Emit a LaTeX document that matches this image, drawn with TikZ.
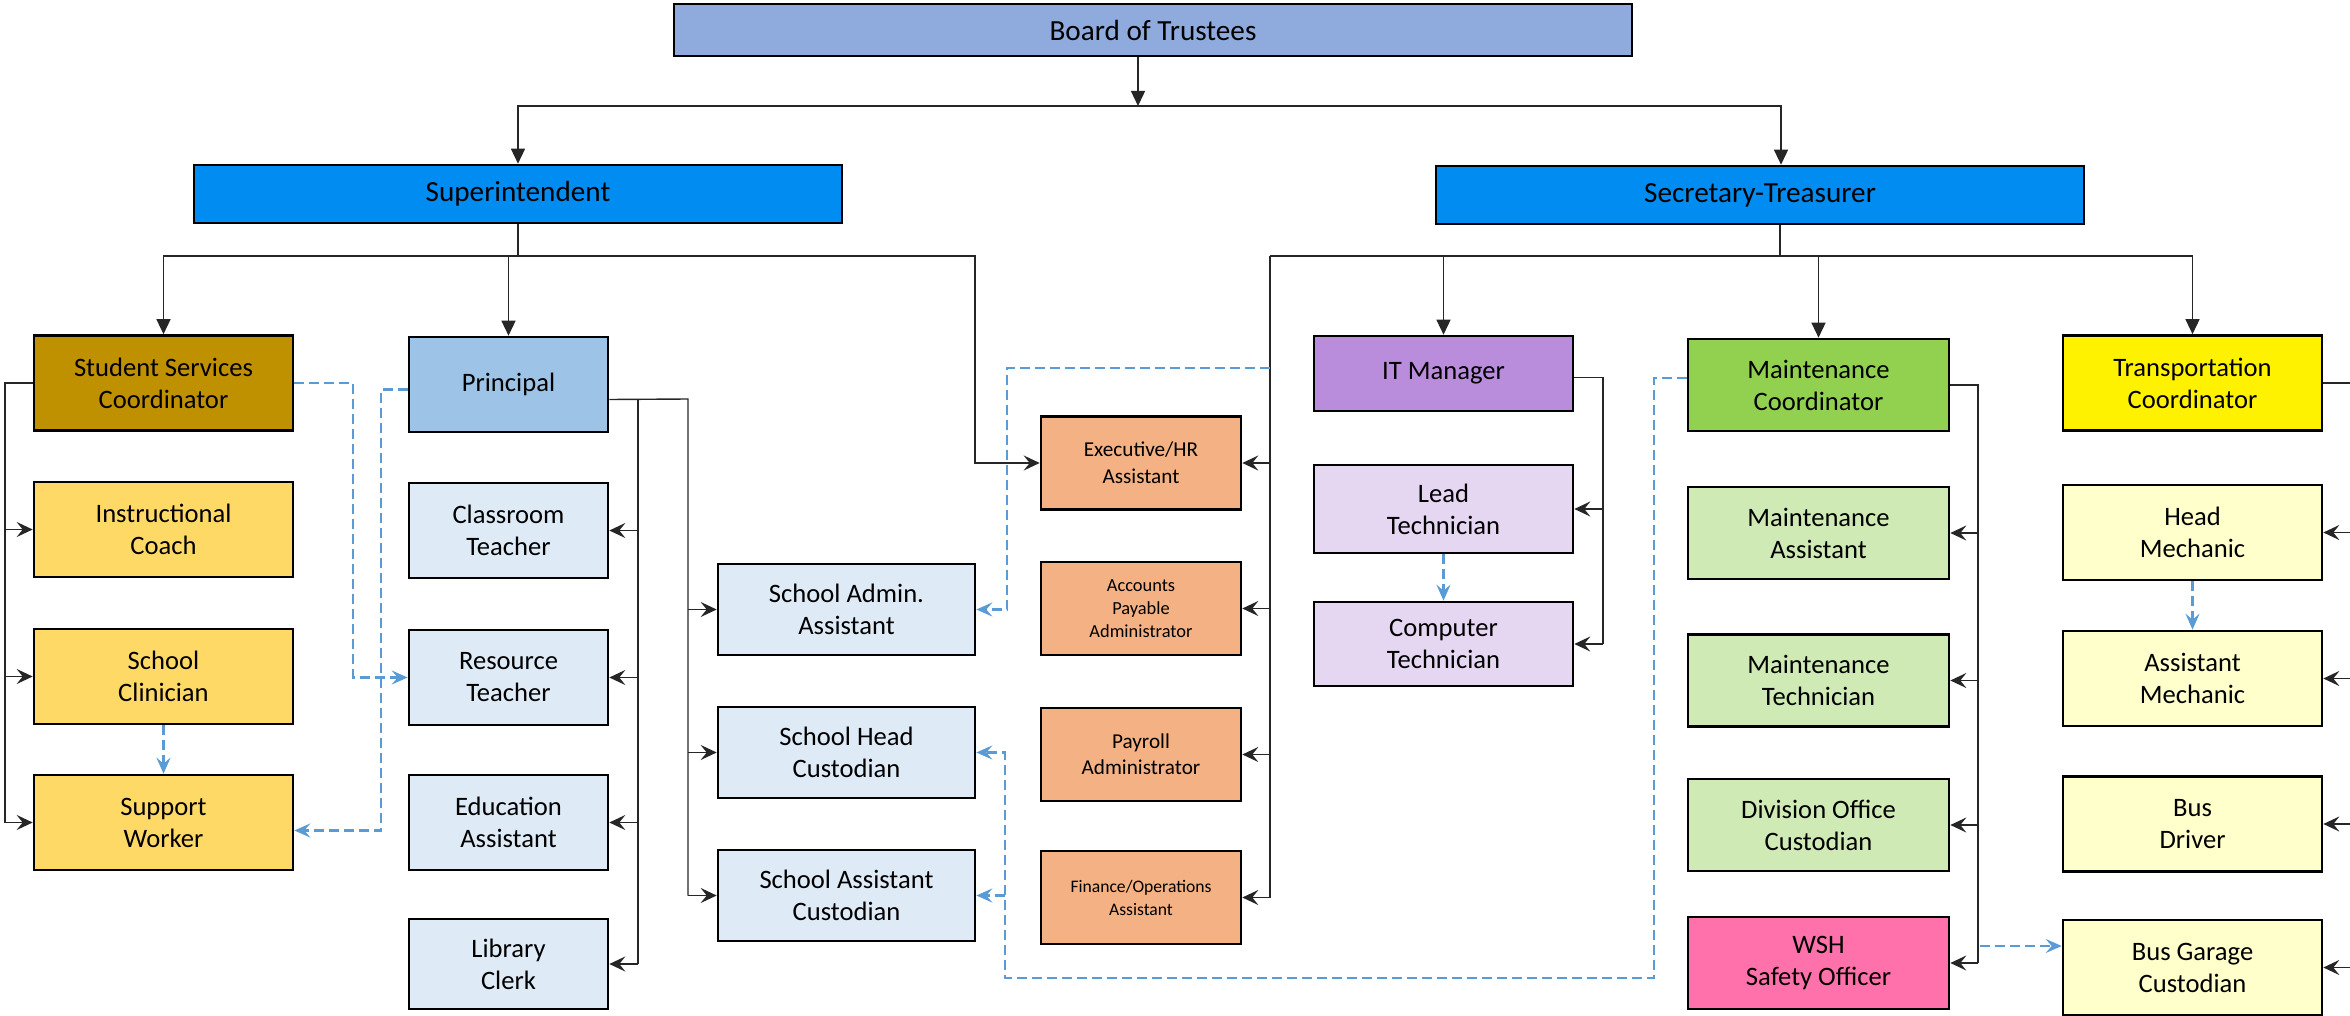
\documentclass[tikz,border=0pt]{standalone}
\usepackage{fontspec}
\setmainfont{Carlito}
\usetikzlibrary{arrows.meta}

\definecolor{boardblue}{HTML}{8FAADC}
\definecolor{topblue}{RGB}{0,140,240}
\definecolor{ssgold}{HTML}{BF9000}
\definecolor{goldlight}{HTML}{FFD966}
\definecolor{prblue}{HTML}{9DC3E6}
\definecolor{bluelight}{HTML}{DEEBF7}
\definecolor{orangebox}{HTML}{F4B183}
\definecolor{itpurple}{RGB}{186,140,220}
\definecolor{lavender}{RGB}{229,214,242}
\definecolor{mtgreen}{HTML}{92D050}
\definecolor{greenlight}{RGB}{208,234,182}
\definecolor{wshpink}{RGB}{255,113,170}
\definecolor{paleyellow}{HTML}{FFFFCC}
\definecolor{linkblue}{HTML}{5B9BD5}

\tikzset{
    box/.style={draw=black, line width=1.3pt, align=center, inner sep=0pt,
        font=\fontsize{13.3}{16}\selectfont},
    sz/.style 2 args={minimum width=#1*0.5pt, minimum height=#2*0.5pt},
    topbox/.style={box, fill=topblue, sz={648}{58}, font=\fontsize{14.6}{17.5}\selectfont},
    ssbox/.style={box, fill=goldlight, sz={259}{95}},
    prbox/.style={box, fill=bluelight, sz={199}{95}},
    scbox/.style={box, fill=bluelight, sz={257}{91}},
    orbox/.style={box, fill=orangebox, sz={200}{93}},
    itbox/.style={box, fill=lavender, sz={259}{86}},
    mtbox/.style={box, fill=greenlight, sz={261}{92}},
    trbox/.style={box, fill=paleyellow, sz={259}{95}},
    conn/.style={line width=0.7pt, draw=black!85},
    down/.style={conn, -{Triangle[length=7.5pt,width=7pt]}},
    side/.style={conn, -{Stealth[length=8pt,width=7.5pt,inset=3pt]}},
    dline/.style={draw=linkblue, line width=1.2pt, dash pattern=on 5pt off 2.5pt,
        -{Stealth[length=8pt,width=7pt,inset=3pt]}}
}

\begin{document}
\begin{tikzpicture}[x=0.5pt, y=-0.5pt]
    \clip (0,0) rectangle (2350,1016) ;
    \node[box, fill=boardblue, sz={958}{52}, font=\fontsize{14.6}{17.5}\selectfont] (board) at (1153,30) {Board of Trustees} ;
    \node[topbox] (super) at (518,194) {Superintendent} ;
    \node[topbox] (sectr) at (1760,195) {Secretary-Treasurer} ;

    \node[ssbox, fill=ssgold] (ssc) at (163.5,383) {Student Services\\Coordinator} ;
    \node[ssbox] (ic) at (163.5,529.5) {Instructional\\Coach} ;
    \node[ssbox] (scl) at (163.5,676.5) {School\\Clinician} ;
    \node[ssbox] (sw) at (163.5,822.5) {Support\\Worker} ;

    \node[prbox, fill=prblue] (prin) at (508.5,384.5) {Principal} ;
    \node[prbox] (ct) at (508.5,530.5) {Classroom\\Teacher} ;
    \node[prbox] (rt) at (508.5,677.5) {Resource\\Teacher} ;
    \node[prbox] (ea) at (508.5,822.5) {Education\\Assistant} ;
    \node[prbox, sz={199}{90}] (lc) at (508.5,964) {Library\\Clerk} ;

    \node[scbox] (saa) at (846.5,609.5) {School Admin.\\Assistant} ;
    \node[scbox] (shc) at (846.5,752.5) {School Head\\Custodian} ;
    \node[scbox] (sac) at (846.5,895.5) {School Assistant\\Custodian} ;

    \node[orbox, font=\fontsize{10.6}{13.4}\selectfont] (exec) at (1141,463) {Executive/HR\\Assistant} ;
    \node[orbox, font=\fontsize{9.2}{11.5}\selectfont] (acct) at (1141,608.5) {Accounts\\Payable\\Administrator} ;
    \node[orbox, font=\fontsize{10.6}{13}\selectfont] (pay) at (1141,754.5) {Payroll\\Administrator} ;
    \node[orbox, font=\fontsize{8.8}{11.5}\selectfont] (fin) at (1141,897.5) {Finance/Operations\\Assistant} ;

    \node[itbox, fill=itpurple, sz={259}{75}] (itm) at (1443.5,373.5) {IT Manager} ;
    \node[itbox, sz={259}{88}] (lt) at (1443.5,509) {Lead\\Technician} ;
    \node[itbox, sz={259}{84}] (ctech) at (1443.5,644) {Computer\\Technician} ;

    \node[mtbox, fill=mtgreen] (mc) at (1818.5,385) {Maintenance\\Coordinator} ;
    \node[mtbox] (ma) at (1818.5,533) {Maintenance\\Assistant} ;
    \node[mtbox] (mt) at (1818.5,680.5) {Maintenance\\Technician} ;
    \node[mtbox] (doc) at (1818.5,825) {Division Office\\Custodian} ;
    \node[mtbox, fill=wshpink] (wsh) at (1818.5,963) {WSH\\Safety Officer} ;

    \node[trbox, fill=yellow] (tc) at (2192.5,383) {Transportation\\Coordinator} ;
    \node[trbox] (hm) at (2192.5,532.5) {Head\\Mechanic} ;
    \node[trbox] (am) at (2192.5,678.5) {Assistant\\Mechanic} ;
    \node[trbox] (bd) at (2192.5,824) {Bus\\Driver} ;
    \node[trbox] (bgc) at (2192.5,967.5) {Bus Garage\\Custodian} ;

    \coordinate (j0) at (1138,106) ;
    \coordinate (j1) at (518,256) ;
    \coordinate (j2) at (975,256) ;
    \coordinate (j3) at (1780,256) ;
    \coordinate (j4) at (1270,256) ;
    \coordinate (k1) at (5,0) ;
    \coordinate (k2) at (638,399) ;
    \coordinate (k3) at (688,399) ;
    \coordinate (k4) at (1603,0) ;
    \coordinate (k5) at (1978,0) ;
    \coordinate (k6) at (2362,0) ;

    \draw[down] (board.south -| j0) -- (j0) ;
    \draw[down] (j0) -| (super.north) ;
    \draw[down] (j0) -| ([xshift=10.5pt]sectr.north) ;

    \draw[conn] (super.south) -- (j1) ;
    \draw[down] (j1) -| (ssc.north) ;
    \draw[down] (j1) -| (prin.north) ;
    \draw[side] (j1) -- (j2) |- (exec.west) ;

    \draw[conn] ([xshift=10pt]sectr.south) -- (j3) ;
    \draw[conn] (j4) -- (j3) ;
    \draw[down] (j3) -| (itm.north) ;
    \draw[down] (j3) -| (mc.north) ;
    \draw[down] (j3) -| (tc.north) ;
    \draw[conn] (j4) -- (j4 |- fin.east) ;
    \foreach \n in {exec, acct, pay, fin}
    \draw[side] (j4 |- \n.east) -- (\n.east) ;

    \draw[conn] (ssc.west) -| (k1 |- sw.west) ;
    \foreach \n in {ic, scl, sw}
    \draw[side] (k1 |- \n.west) -- (\n.west) ;

    \draw[conn] ([yshift=-7.5pt]prin.east) -- (k3) -- (k3 |- sac.west) ;
    \draw[conn] (k2) -- (k2 |- lc.east) ;
    \foreach \n in {ct, rt, ea, lc}
    \draw[side] (k2 |- \n.east) -- (\n.east) ;
    \foreach \n in {saa, shc, sac}
    \draw[side] (k3 |- \n.west) -- (\n.west) ;

    \draw[conn] ([yshift=-2pt]itm.east) -| (k4 |- ctech.east) ;
    \foreach \n in {lt, ctech}
    \draw[side] (k4 |- \n.east) -- (\n.east) ;

    \draw[conn] (mc.east) -| (k5 |- wsh.east) ;
    \foreach \n in {ma, mt, doc, wsh}
    \draw[side] (k5 |- \n.east) -- (\n.east) ;

    \draw[conn] (tc.east) -| (k6 |- bgc.east) ;
    \foreach \n in {hm, am, bd, bgc}
    \draw[side] (k6 |- \n.east) -- (\n.east) ;

    \coordinate (d1) at (353,0) ;
    \coordinate (d2) at (381,0) ;
    \coordinate (d3) at (1007,368) ;
    \coordinate (d4) at (1654,978) ;
    \coordinate (d5) at (1005,978) ;
    \coordinate (d6) at (1980,946) ;
    \draw[dline] (ssc.east) -- (ssc.east -| d1) |- (rt.west) ;
    \draw[dline] ([yshift=-2.5pt]prin.west) -- ([yshift=-2.5pt]prin.west -| d2) |- ([yshift=-4pt]sw.east) ;
    \draw[dline] (scl.south) -- (sw.north) ;
    \draw[dline] (j4 |- d3) -- (d3) |- (saa.east) ;
    \draw[dline] ([yshift=3.5pt]mc.west) -| (d4) -- (d5) |- (shc.east) ;
    \draw[dline] (d5 |- sac.east) -- (sac.east) ;
    \draw[dline] (lt.south) -- (ctech.north) ;
    \draw[dline] (hm.south) -- (am.north) ;
    \draw[dline] (d6) -- (d6 -| bgc.west) ;
  \end{tikzpicture}
\end{document}
